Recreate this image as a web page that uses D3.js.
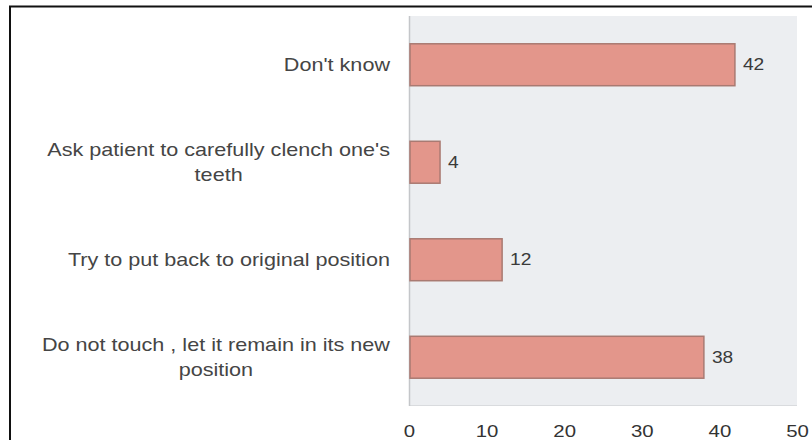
<!DOCTYPE html>
<html>
<head>
<meta charset="utf-8">
<script src="https://cdn.jsdelivr.net/npm/d3@7"></script>
<style>
  html, body { margin: 0; padding: 0; background: #ffffff; }
  svg { display: block; }
</style>
</head>
<body>
<svg id="chart" width="812" height="440"></svg>
<script>
// Responses, top to bottom
const categories = [
  ["Don't know"],
  ["Ask patient to carefully clench one's", "teeth"],
  ["Try to put back to original position"],
  ["Do not touch , let it remain in its new", "position"]
];
const values = [42, 4, 12, 38];
const xTicks = [0, 10, 20, 30, 40, 50];

const W = 812, H = 440;
const plot = { left: 409, right: 797, top: 16, bottom: 406 };
const FONT = "Liberation Sans, Arial, sans-serif";
const stretch = 1.2; // text is drawn slightly wide

const svg = d3.select("#chart");

// Outer frame (top and left rules)
svg.append("line").attr("x1", 9).attr("x2", W).attr("y1", 6.5).attr("y2", 6.5)
  .attr("stroke", "#111").attr("stroke-width", 2);
svg.append("line").attr("x1", 10).attr("x2", 10).attr("y1", 6).attr("y2", H)
  .attr("stroke", "#111").attr("stroke-width", 2);

const x = d3.scaleLinear().domain([0, 50]).range([plot.left, plot.right]);
const y = d3.scaleBand().domain(d3.range(categories.length))
  .range([plot.top, plot.bottom]).paddingInner(0.57).paddingOuter(0.285);

// Plot background
svg.append("rect")
  .attr("x", plot.left).attr("y", plot.top)
  .attr("width", plot.right - plot.left).attr("height", plot.bottom - plot.top)
  .attr("fill", "#eceef1");
svg.append("line").attr("x1", plot.left).attr("x2", plot.right)
  .attr("y1", plot.bottom - 0.5).attr("y2", plot.bottom - 0.5)
  .attr("stroke", "#d9dbde").attr("stroke-width", 1);
svg.append("line").attr("x1", plot.left + 0.5).attr("x2", plot.left + 0.5)
  .attr("y1", plot.top).attr("y2", plot.bottom)
  .attr("stroke", "#c4c6c9").attr("stroke-width", 1.5);

// Bars
svg.append("g").selectAll("rect").data(values).join("rect")
  .attr("x", x(0) + 1)
  .attr("y", (d, i) => y(i))
  .attr("width", d => x(d) - x(0) - 1)
  .attr("height", y.bandwidth())
  .attr("fill", "#e3968b")
  .attr("stroke", "#a97a72")
  .attr("stroke-width", 1.5);

// Value labels
svg.append("g").selectAll("text").data(values).join("text")
  .attr("transform", (d, i) => `translate(${x(d) + 8},${y(i) + y.bandwidth() / 2}) scale(${stretch},1)`)
  .attr("dy", "0.35em")
  .attr("font-family", FONT)
  .attr("font-size", 16)
  .attr("fill", "#3a3a3a")
  .text(d => d);

// Category labels: multi-line labels are centred on their widest line,
// with the block right-aligned next to the axis
const labelRight = 390;
const lineGap = 25;
const labelG = svg.append("g")
  .attr("font-family", FONT)
  .attr("font-size", 18)
  .attr("fill", "#454545");
categories.forEach((lines, i) => {
  const cy = y(i) + y.bandwidth() / 2;
  const t = labelG.append("text").attr("text-anchor", "middle");
  const n = lines.length;
  lines.forEach((ln, k) => {
    t.append("tspan")
      .attr("x", 0)
      .attr("y", (k - (n - 1) / 2) * lineGap)
      .attr("dy", "0.35em")
      .text(ln);
  });
  let maxW = 0;
  t.selectAll("tspan").each(function () {
    maxW = Math.max(maxW, this.getComputedTextLength());
  });
  t.attr("transform", `translate(${labelRight - maxW * stretch / 2},${cy}) scale(${stretch},1)`);
});

// X axis tick labels (each tick group sits at its value, so scaling keeps it centred)
const xAxis = d3.axisBottom(x).tickValues(xTicks).tickSize(0).tickPadding(0);
const ax = svg.append("g").attr("transform", `translate(0, ${plot.bottom + 19})`).call(xAxis);
ax.select(".domain").remove();
ax.selectAll("text")
  .attr("font-family", FONT)
  .attr("font-size", 17)
  .attr("fill", "#333")
  .attr("transform", `scale(${stretch},1)`);
</script>
</body>
</html>
